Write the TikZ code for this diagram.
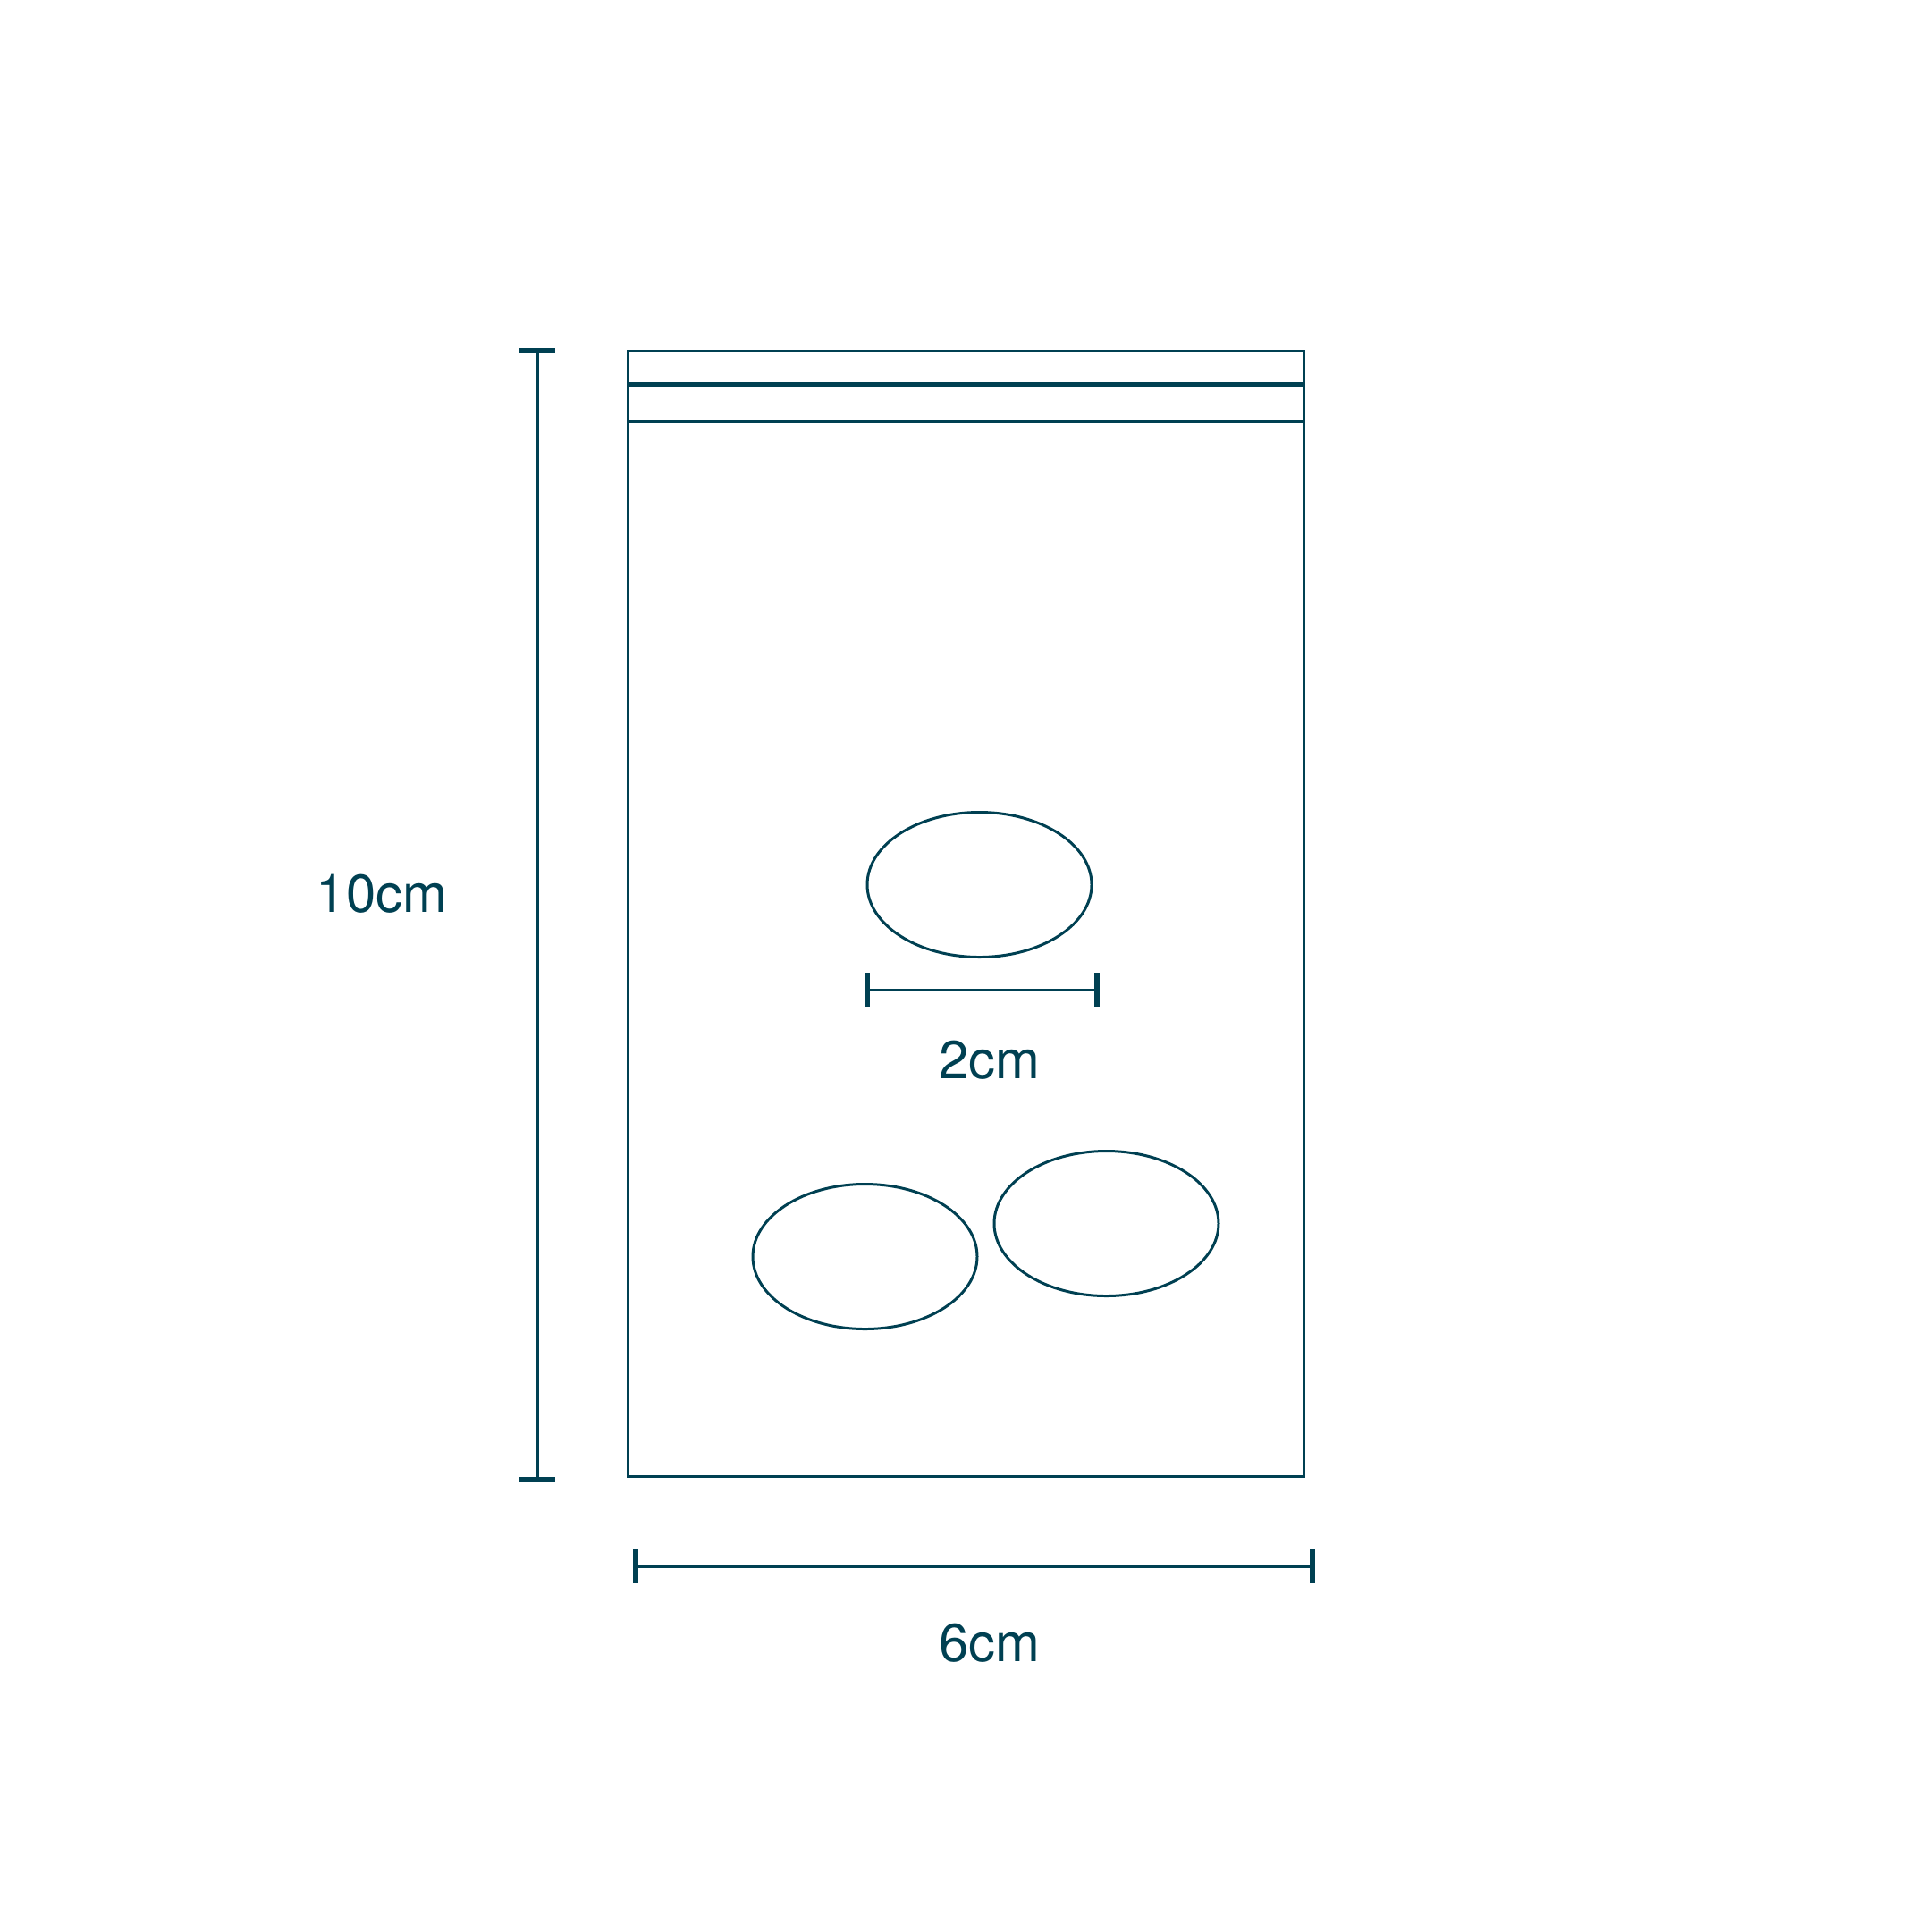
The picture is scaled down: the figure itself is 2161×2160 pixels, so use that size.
\documentclass[tikz,border=0pt]{standalone}
\usepackage{fontspec}
\setmainfont{TeX Gyre Heros}
\definecolor{bagteal}{RGB}{0,64,82}
\tikzset{
    bagline/.style = {draw=bagteal, line width=0.85pt},
    sealline/.style = {draw=bagteal, line width=1.7pt},
    dimline/.style = {draw=bagteal, line width=0.85pt},
    dimcap/.style = {draw=bagteal, line width=1.6pt},
    dimlabel/.style = {text=bagteal, inner sep=0pt, font=\fontsize{17}{20}\selectfont}
}
\begin{document}
\begin{tikzpicture}[x=0.01cm, y=-0.01cm]
    \useasboundingbox (0,0) rectangle (2161,2160);

    % bag outline and seal lines
    \coordinate (tl) at (702,392);
    \coordinate (br) at (1458,1651);
    \draw[bagline] (tl) rectangle (br);
    \draw[sealline] (702,430) -- (1458,430);
    \draw[bagline] (702,471) -- (1458,471);

    % pills
    \foreach \cx/\cy [count=\p] in {1095.5/989.5, 967.5/1405.5, 1237.5/1368.5} {
        \draw[bagline] (\cx,\cy) ellipse (125.5 and 81);};

    % height
    \coordinate (htop) at (601,392);
    \coordinate (hbot) at (601,1655);
    \draw[dimline] (htop) -- (hbot);
    \draw[dimcap] (581,392) -- (621,392);
    \draw[dimcap] (581,1655) -- (621,1655);
    \node[dimlabel] (hlabel) at (427,1000) {10cm};

    % width
    \coordinate (wleft) at (711,1752);
    \coordinate (wright) at (1468,1752);
    \draw[dimline] (wleft) -- (wright);
    \draw[dimcap] (711,1733) -- (711,1771);
    \draw[dimcap] (1468,1733) -- (1468,1771);
    \node[dimlabel] (wlabel) at (1106.5,1838) {6cm};

    % pill size
    \coordinate (pleft) at (970,1107);
    \coordinate (pright) at (1227,1107);
    \draw[dimline] (pleft) -- (pright);
    \draw[dimcap] (970,1088) -- (970,1126);
    \draw[dimcap] (1227,1088) -- (1227,1126);
    \node[dimlabel] (plabel) at (1106.5,1186) {2cm};

\end{tikzpicture}
\end{document}
